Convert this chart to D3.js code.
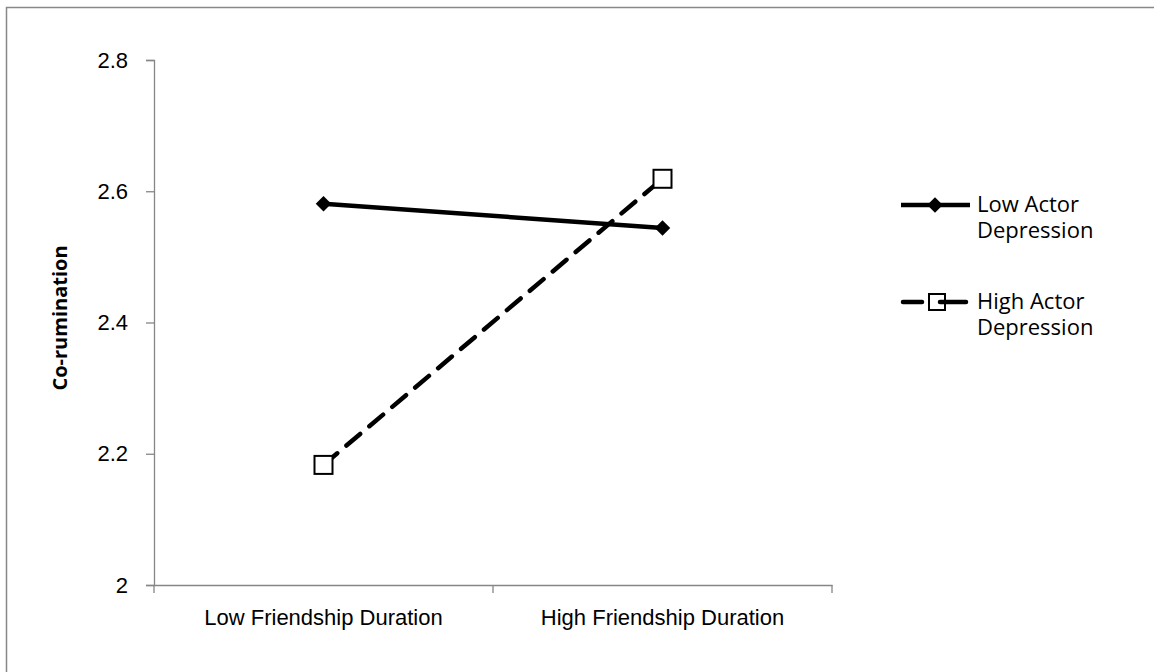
<!DOCTYPE html>
<html>
<head>
<meta charset="utf-8">
<script src="https://cdn.jsdelivr.net/npm/d3@7"></script>
<style>
  body { margin: 0; background: #fff; }
  svg { font-family: "Open Sans", Lato, sans-serif; }
</style>
</head>
<body>
<svg id="chart" width="1154" height="672"></svg>
<script>
// data
var categories = ["Low Friendship Duration", "High Friendship Duration"];
var seriesNames = [["Low Actor", "Depression"], ["High Actor", "Depression"]];
var lowActor = [2.581, 2.544];
var highActor = [2.183, 2.619];
var yTicks = [2, 2.2, 2.4, 2.6, 2.8];

var svg = d3.select("#chart");
var fs = 22;

// outer frame
svg.append("rect")
  .attr("x", 6.5).attr("y", 7.5)
  .attr("width", 1160).attr("height", 700)
  .attr("fill", "none").attr("stroke", "#888").attr("stroke-width", 1.5);

var xScale = d3.scaleBand()
  .domain(categories)
  .range([154, 832]);

var yScale = d3.scaleLinear()
  .domain([2, 2.8])
  .range([585, 60]);

// left axis
var laxis = d3.axisLeft(yScale)
  .tickValues(yTicks)
  .tickSize(8)
  .tickPadding(18)
  .tickFormat(function (d) { return d3.format("")(+d.toFixed(1)); });

var gy = svg.append("g")
  .attr("transform", "translate(154,0)")
  .call(laxis);
gy.select(".domain").attr("stroke", "#868686").attr("stroke-width", 1.3);
gy.selectAll(".tick line").attr("stroke", "#868686").attr("stroke-width", 1.3);
gy.selectAll(".tick text").attr("font-size", fs).attr("fill", "#000");

// bottom axis, ticks on category boundaries
var baxis = d3.axisBottom(xScale).tickSize(0).tickPadding(24);
var gx = svg.append("g")
  .attr("transform", "translate(0,585)")
  .call(baxis);
gx.select(".domain").attr("stroke", "#868686").attr("stroke-width", 1.3);
gx.selectAll(".tick text").attr("font-size", fs).attr("fill", "#000");

var bounds = [154, 154 + xScale.step(), 832];
svg.append("g").selectAll("line")
  .data(bounds)
  .enter().append("line")
  .attr("x1", function (d) { return d; }).attr("x2", function (d) { return d; })
  .attr("y1", 585).attr("y2", 593)
  .attr("stroke", "#868686").attr("stroke-width", 1.3);

// y title
svg.append("text")
  .attr("transform", "translate(67,318) rotate(-90)")
  .attr("text-anchor", "middle")
  .attr("font-size", 20).attr("font-weight", "bold")
  .text("Co-rumination");

var myLine = d3.line()
  .x(function (d, i) { return xScale(categories[i]) + xScale.bandwidth() / 2; })
  .y(function (d) { return yScale(d); });

svg.append("path")
  .attr("d", myLine(lowActor))
  .attr("fill", "none").attr("stroke", "#000").attr("stroke-width", 4.5);

svg.append("path")
  .attr("d", myLine(highActor))
  .attr("fill", "none").attr("stroke", "#000").attr("stroke-width", 4.5)
  .attr("stroke-dasharray", "18,12").attr("stroke-linecap", "round");

var diamond = d3.symbol().type(d3.symbolSquare).size(120);

svg.append("g").selectAll("path")
  .data(lowActor)
  .enter().append("path")
  .attr("d", diamond)
  .attr("transform", function (d, i) {
    return "translate(" + (xScale(categories[i]) + xScale.bandwidth() / 2) + "," + yScale(d) + ") rotate(45)";
  })
  .attr("fill", "#000");

svg.append("g").selectAll("rect")
  .data(highActor)
  .enter().append("rect")
  .attr("x", function (d, i) { return xScale(categories[i]) + xScale.bandwidth() / 2 - 9; })
  .attr("y", function (d) { return yScale(d) - 9; })
  .attr("width", 18).attr("height", 18)
  .attr("fill", "#fff").attr("stroke", "#000").attr("stroke-width", 2);

// legend
var legY = [205, 302];
var lg = svg.append("g");
lg.append("line").attr("x1", 901).attr("x2", 970).attr("y1", legY[0]).attr("y2", legY[0])
  .attr("stroke", "#000").attr("stroke-width", 4.5);
lg.append("path").attr("d", diamond)
  .attr("transform", "translate(935," + legY[0] + ") rotate(45)").attr("fill", "#000");
lg.append("line").attr("x1", 903).attr("x2", 922).attr("y1", legY[1]).attr("y2", legY[1])
  .attr("stroke", "#000").attr("stroke-width", 4.5).attr("stroke-linecap", "round");
lg.append("rect").attr("x", 929).attr("y", legY[1] - 8).attr("width", 16).attr("height", 16)
  .attr("fill", "#fff").attr("stroke", "#000").attr("stroke-width", 2);
lg.append("line").attr("x1", 940).attr("x2", 966).attr("y1", legY[1]).attr("y2", legY[1])
  .attr("stroke", "#000").attr("stroke-width", 4.5).attr("stroke-linecap", "round");

seriesNames.forEach(function (n, k) {
  var t = lg.append("text").attr("x", 977).attr("y", legY[k] + 7).attr("font-size", fs);
  t.append("tspan").attr("x", 977).text(n[0]);
  t.append("tspan").attr("x", 977).attr("dy", 26).text(n[1]);
});
</script>
</body>
</html>
